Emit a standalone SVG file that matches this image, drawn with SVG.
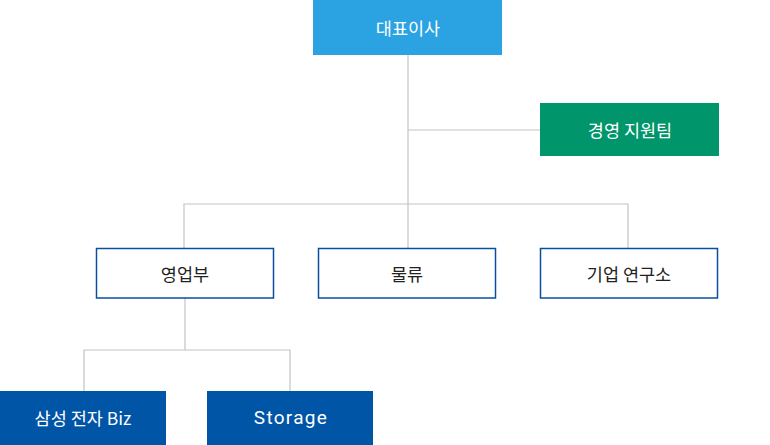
<svg xmlns="http://www.w3.org/2000/svg" width="770" height="445" viewBox="0 0 770 445">
<style>
text{font-family:"Noto Sans CJK KR","Noto Sans",sans-serif;font-size:17.5px;text-anchor:middle;dominant-baseline:central}
.w{fill:#fff}
.d{fill:#222}
.lat{font-family:Roboto,"Noto Sans",sans-serif;font-size:19px;letter-spacing:1.3px}
.ob{fill:#fff;stroke:#0a4f9e;stroke-width:1.5}
.ln{fill:none;stroke:#c4c4c4;stroke-width:1.2}
</style>
<g id="connectors">
<path class="ln" d="M408 55V204M408 130H540M184 248V204H628V248M408 204V248"/>
<path class="ln" d="M185 298V350M84 391V350H290V391"/>
</g>
<g id="ceo"><rect x="313" y="0" width="189" height="55" fill="#2ba3e2"/><text class="w" x="408" y="27">대표이사</text></g>
<g id="support"><rect x="540" y="103" width="179" height="53" fill="#00956a"/><text class="w" x="630" y="129.5">경영 지원팀</text></g>
<g id="sales"><rect class="ob" x="96.5" y="248.5" width="177" height="49.5"/><text class="d" x="185" y="273.5">영업부</text></g>
<g id="logistics"><rect class="ob" x="318.5" y="248.5" width="177" height="49.5"/><text class="d" x="407" y="273.5">물류</text></g>
<g id="lab"><rect class="ob" x="540.5" y="248.5" width="177" height="49.5"/><text class="d" x="629" y="273.5">기업 연구소</text></g>
<g id="samsung"><rect x="0" y="391" width="166" height="54" fill="#0055a6"/><text class="w" x="83" y="417">삼성 전자 Biz</text></g>
<g id="storage"><rect x="207" y="391" width="166" height="54" fill="#0055a6"/><text class="w lat" x="291" y="417">Storage</text></g>
</svg>
